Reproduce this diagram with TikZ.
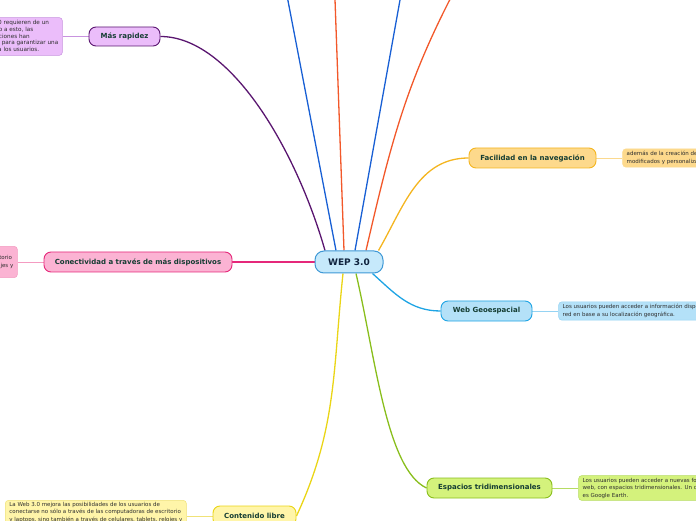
\documentclass[tikz,border=0pt]{standalone}
\usepackage{fontspec}
\setmainfont{DejaVu Sans}
\usetikzlibrary{positioning,backgrounds}
\definecolor{wepfill}{HTML}{C6E9FB}
\definecolor{wepline}{HTML}{3E98D6}
\definecolor{weptext}{HTML}{10233E}
\definecolor{topictext}{HTML}{153D33}
\definecolor{notetext}{HTML}{2E2E2E}
\definecolor{rapfill}{HTML}{EBBDFA}
\definecolor{rapline}{HTML}{5A1670}
\definecolor{rapsoft}{HTML}{C893DF}
\definecolor{confill}{HTML}{FBB3D3}
\definecolor{conline}{HTML}{E5287A}
\definecolor{consoft}{HTML}{F49BC1}
\definecolor{facfill}{HTML}{FDD98C}
\definecolor{facline}{HTML}{F4B520}
\definecolor{facsoft}{HTML}{FBD98E}
\definecolor{geofill}{HTML}{B4E1F8}
\definecolor{geoline}{HTML}{1EA4E4}
\definecolor{geosoft}{HTML}{95D3F3}
\definecolor{espfill}{HTML}{D4F27C}
\definecolor{espline}{HTML}{89BE1C}
\definecolor{espsoft}{HTML}{B6DC63}
\definecolor{libfill}{HTML}{FFF5A9}
\definecolor{libline}{HTML}{EAD516}
\definecolor{libsoft}{HTML}{F0E277}
\definecolor{upblue}{HTML}{185FD4}
\definecolor{upred}{HTML}{F2582A}

\begin{document}
\begin{tikzpicture}[x=1pt, y=1pt,
  node distance=26pt,
  topic/.style={draw, line width=0.9pt, rounded corners=7pt, font=\fontsize{7}{8}\selectfont\bfseries,
                text=topictext, minimum height=20pt, inner xsep=4pt},
  note/.style={draw, line width=0.5pt, rounded corners=3pt, font=\fontsize{5.5}{7.6}\selectfont,
               text=notetext, align=left, inner xsep=4pt, inner ysep=2.5pt},
  branch/.style={line width=1.3pt},
  twig/.style={line width=0.8pt}]
  \useasboundingbox (0,0) rectangle (696,520);
  \clip (0,0) rectangle (696,520);
  \node[draw=wepline, fill=wepfill, line width=1pt, rounded corners=9pt, minimum width=68pt, minimum height=22pt,
        font=\fontsize{9}{10}\selectfont\bfseries, text=weptext] (wep) at (349,258) {WEP 3.0};
  \node[topic, fill=rapfill, draw=rapline, minimum width=71pt, minimum height=19pt] (rap) at (124.5,483.5) {Más rapidez};
  \node[topic, fill=confill, draw=conline, minimum width=188pt] (con) at (138,258) {Conectividad a través de más dispositivos};
  \node[topic, fill=facfill, draw=facline, minimum width=127pt] (fac) at (532.5,362) {Facilidad en la navegación};
  \node[topic, fill=geofill, draw=geoline, minimum width=91pt] (geo) at (486.5,209) {Web Geoespacial};
  \node[topic, fill=espfill, draw=espline, minimum width=125pt] (esp) at (489.5,32) {Espacios tridimensionales};
  \node[topic, fill=libfill, draw=libline, minimum width=83pt] (lib) at (254.5,4) {Contenido libre};
  \node[note, fill=rapfill, draw=rapsoft, left=of rap, font=\fontsize{5.7}{6.8}\selectfont] (rapnote)
    {Las aplicaciones de la Web 3.0 requieren de un\\más ancho de banda; y debido a esto, las\\proveedores de telecomunicaciones han\\mejorado sus infraestructuras para garantizar una\\mejor velocidad de conexión a los usuarios.};
  \node[note, fill=confill, draw=consoft, left=of con, font=\fontsize{5.5}{7.3}\selectfont, inner ysep=2pt] (connote)
    {La Web 3.0 mejora las posibilidades de los usuarios de\\conectarse no sólo a través de las computadoras de escritorio\\y laptops, sino también a través de celulares, tablets, relojes y\\otros dispositivos.};
  \node[note, fill=facfill, draw=facsoft, right=of fac] (facnote)
    {además de la creación de sitios web que pueden ser\\modificados y personalizados por los usuarios.};
  \node[note, fill=geofill, draw=geosoft, right=of geo] (geonote)
    {Los usuarios pueden acceder a información disponible en la\\red en base a su localización geográfica.};
  \node[note, fill=espfill, draw=espsoft, right=of esp, inner ysep=2pt] (espnote)
    {Los usuarios pueden acceder a nuevas formas de navegación\\web, con espacios tridimensionales. Un claro ejemplo de esto\\es Google Earth.};
  \node[note, fill=libfill, draw=libsoft, left=of lib, font=\fontsize{5.5}{7.3}\selectfont, inner ysep=2pt] (libnote)
    {La Web 3.0 mejora las posibilidades de los usuarios de\\conectarse no sólo a través de las computadoras de escritorio\\y laptops, sino también a través de celulares, tablets, relojes y\\otros dispositivos.};
  \coordinate (up1) at (284,540);
  \coordinate (up2) at (334.3,540);
  \coordinate (up3) at (403.6,540);
  \coordinate (up4) at (458,536);
  \begin{scope}[on background layer]
    \draw[branch, upblue] ([xshift=-13pt]wep.north) -- (up1);
    \draw[branch, upred] ([xshift=-5pt]wep.north) -- (up2);
    \draw[branch, upblue] ([xshift=6pt]wep.north) -- (up3);
    \draw[branch, upred] ([xshift=17pt]wep.north) to[out=77, in=242] (up4);
    \draw[branch, rapline] ([xshift=-24pt]wep.north) to[out=106, in=0, in looseness=0.66] (rap.east);
    \draw[branch, conline] (wep.west) -- (con.east);
    \draw[branch, facline] ([xshift=-5pt]wep.north east) to[out=60, in=180] (fac.west);
    \draw[branch, geoline] ([xshift=-11pt]wep.south east) to[out=-42, in=180] (geo.west);
    \draw[branch, espline] ([xshift=7pt]wep.south) to[out=-77, in=155, in looseness=0.5] (esp.west);
    \draw[branch, libline] ([xshift=-6pt]wep.south) to[out=-96, in=65] (lib.east);
    \draw[twig, rapsoft] (rap.west) -- (rapnote.east);
    \draw[twig, consoft] (con.west) -- (connote.east);
    \draw[twig, facsoft] (fac.east) -- (facnote.west);
    \draw[twig, geosoft] (geo.east) -- (geonote.west);
    \draw[twig, espsoft] (esp.east) -- (espnote.west);
    \draw[twig, libsoft] (lib.west) -- (libnote.east);
  \end{scope}
\end{tikzpicture}
\end{document}
